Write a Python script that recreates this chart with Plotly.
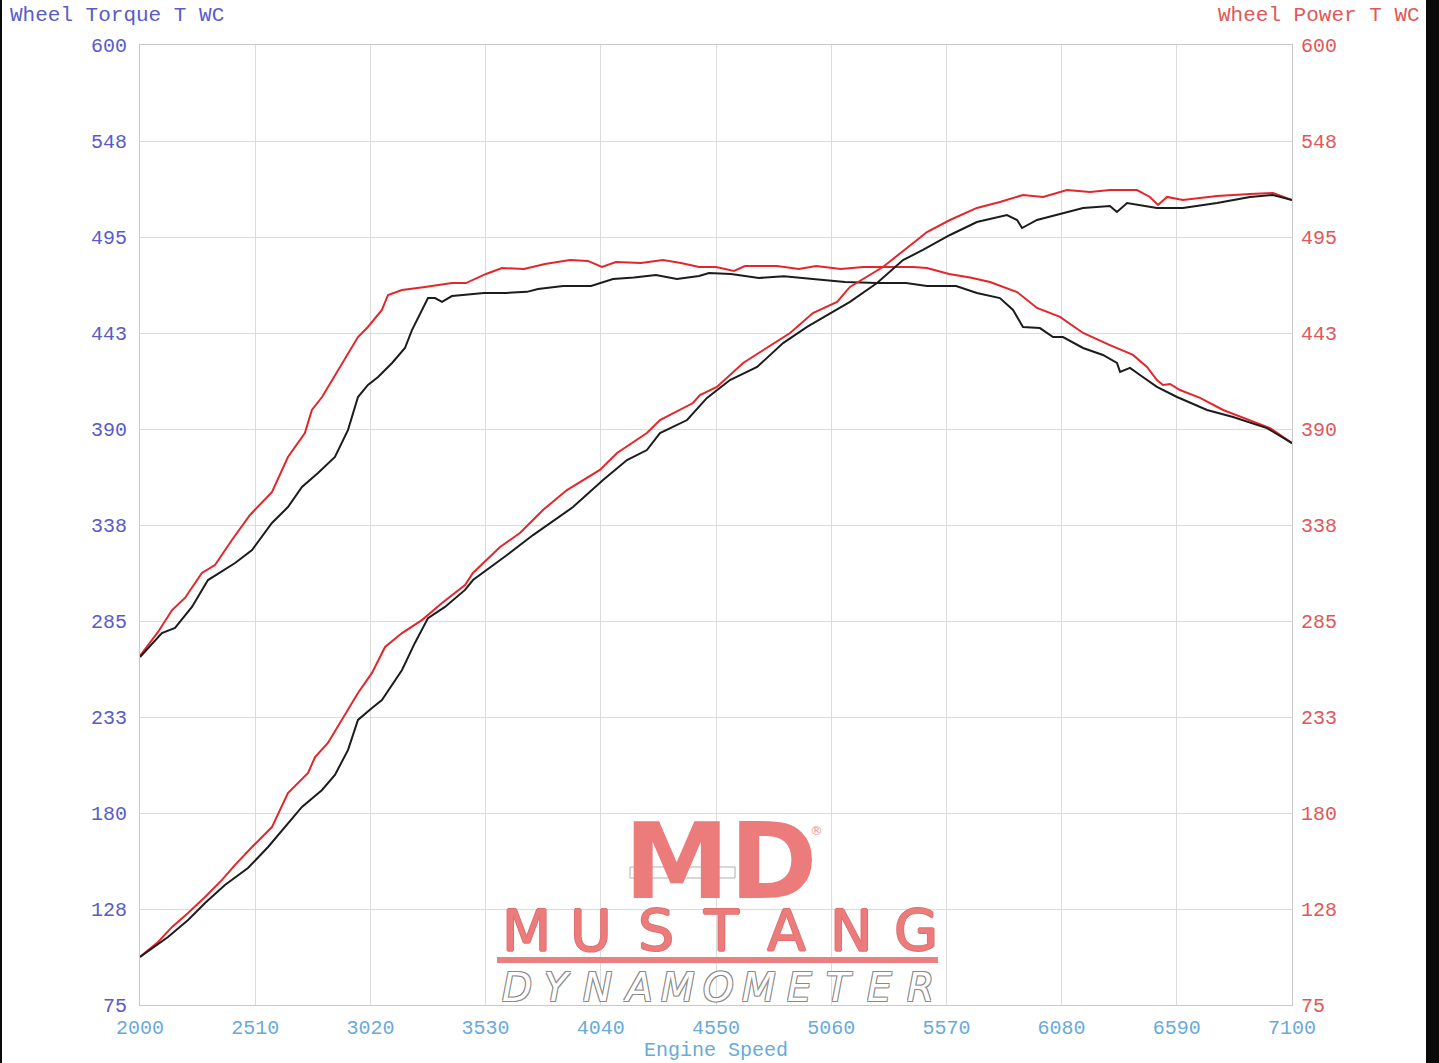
import plotly.graph_objects as go

# ---------------- data ----------------
rt_rpm = [2000, 2080, 2142, 2199, 2274, 2332, 2407, 2487, 2584, 2655, 2730, 2761, 2806, 2877, 2965, 3009,
          3071, 3098, 3160, 3262, 3381, 3443, 3532, 3603, 3700, 3793, 3904, 3983, 4045, 4107, 4218, 4315,
          4395, 4475, 4550, 4630, 4678, 4820, 4917, 4993, 5103, 5201, 5294, 5422, 5484, 5582, 5675, 5763,
          5883, 5971, 6073, 6175, 6294, 6396, 6458, 6502, 6529, 6560, 6604, 6693, 6795, 6914, 7003, 7100]
rt_val = [265.9, 279.0, 291.0, 297.6, 311.3, 315.6, 329.3, 343.0, 355.5, 374.7, 387.8, 400.4, 407.5, 422.3,
          440.3, 445.8, 455.1, 463.3, 466.0, 467.7, 469.8, 469.8, 474.8, 478.0, 477.5, 480.2, 482.4, 481.9,
          478.6, 481.3, 480.8, 482.4, 480.8, 478.6, 478.6, 476.4, 479.1, 479.1, 477.5, 479.1, 477.5, 478.6,
          478.6, 478.6, 478.0, 474.8, 472.9, 470.4, 464.9, 456.2, 451.3, 442.5, 435.9, 430.5, 423.9, 416.8,
          414.1, 414.6, 411.3, 407.0, 400.4, 394.9, 390.5, 382.3]

bt_rpm = [2000, 2097, 2155, 2230, 2301, 2421, 2496, 2584, 2655, 2717, 2788, 2863, 2921, 2965, 3009, 3054,
          3116, 3173, 3204, 3248, 3275, 3306, 3337, 3381, 3523, 3620, 3713, 3762, 3873, 3997, 4094, 4187,
          4284, 4377, 4475, 4519, 4616, 4740, 4851, 4979, 5121, 5263, 5391, 5484, 5613, 5705, 5807, 5865,
          5896, 5909, 5984, 6042, 6086, 6175, 6263, 6325, 6339, 6383, 6427, 6502, 6591, 6724, 6839, 6989, 7100]
bt_val = [265.3, 278.4, 281.2, 292.7, 307.4, 316.7, 323.8, 338.6, 347.3, 358.3, 365.9, 374.7, 389.5, 407.5,
          414.1, 418.4, 426.1, 434.3, 444.1, 455.1, 461.6, 461.6, 459.5, 462.7, 464.4, 464.4, 465.0, 466.6,
          468.2, 468.2, 472.0, 472.9, 474.2, 472.0, 473.7, 475.3, 474.8, 472.6, 473.5, 472.0, 470.4, 469.8,
          469.8, 468.2, 468.2, 464.4, 461.6, 455.1, 448.0, 445.8, 445.2, 440.3, 440.3, 434.3, 430.5, 426.1,
          421.2, 423.4, 419.5, 413.0, 407.5, 400.4, 396.6, 390.5, 382.3]

rp_rpm = [2000, 2080, 2142, 2213, 2288, 2363, 2421, 2496, 2584, 2655, 2744, 2775, 2832, 2894, 2965, 3027,
          3085, 3160, 3248, 3337, 3439, 3474, 3594, 3682, 3784, 3890, 4036, 4112, 4244, 4302, 4448, 4479,
          4554, 4670, 4776, 4878, 4979, 5086, 5143, 5289, 5440, 5484, 5586, 5705, 5807, 5909, 5998, 6104,
          6206, 6294, 6414, 6471, 6507, 6547, 6617, 6768, 6914, 7016, 7100]
rp_val = [101.3, 109.5, 117.7, 125.3, 134.1, 143.4, 151.6, 161.4, 172.3, 190.9, 201.9, 210.6, 218.3, 230.9,
          245.6, 256.6, 270.8, 278.4, 285.5, 294.8, 304.7, 311.3, 325.5, 333.1, 345.7, 356.6, 367.6, 376.9,
          387.8, 394.9, 404.2, 408.6, 413.0, 426.1, 434.3, 442.5, 453.4, 459.5, 467.7, 478.6, 493.4, 497.7,
          504.3, 510.9, 514.1, 518.0, 516.9, 520.7, 519.6, 520.7, 520.7, 516.9, 512.5, 516.9, 515.2, 517.4,
          518.5, 519.1, 515.2]

bp_rpm = [2000, 2124, 2213, 2288, 2376, 2478, 2567, 2655, 2717, 2806, 2863, 2921, 2965, 3027, 3071, 3160,
          3217, 3275, 3350, 3439, 3474, 3625, 3740, 3917, 4050, 4156, 4244, 4302, 4422, 4510, 4612, 4732,
          4847, 4953, 5143, 5263, 5378, 5466, 5586, 5705, 5838, 5883, 5905, 5971, 6060, 6175, 6294, 6325,
          6370, 6427, 6502, 6617, 6768, 6914, 7016, 7100]
bp_val = [101.3, 112.2, 121.5, 130.8, 140.6, 149.9, 161.4, 174.5, 183.3, 192.6, 200.8, 214.5, 230.9, 237.4,
          241.8, 258.2, 273.0, 286.6, 292.7, 302.0, 307.4, 321.1, 332.0, 347.3, 362.1, 373.0, 378.5, 387.8,
          394.9, 407.0, 416.8, 423.9, 437.0, 445.8, 459.5, 469.8, 482.4, 487.9, 496.1, 503.2, 507.0, 504.3,
          499.9, 504.3, 507.0, 510.9, 512.0, 508.7, 513.6, 512.5, 510.9, 510.9, 513.6, 516.9, 518.0, 515.2]

x_ticks = [2000, 2510, 3020, 3530, 4040, 4550, 5060, 5570, 6080, 6590, 7100]
y_ticks = [75, 127.5, 180, 232.5, 285, 337.5, 390, 442.5, 495, 547.5, 600]
y_tick_text = ["75", "128", "180", "233", "285", "338", "390", "443", "495", "548", "600"]

# ---------------- styling ----------------
# The figure occupies page pixels x 2..1430; the page background shows as the dark frame edges.
OFFX = 2
W, H = 1428, 1063
L, T, B = 140 - OFFX, 45, 58
R = W - (1292 - OFFX)
PW, PH = W - L - R, H - T - B

def pxx(x):
    return (x - OFFX - L) / PW

def pxy(y):
    return (H - B - y) / PH

RED = "#e3262b"
BLACK = "#1c1c1c"
LBLUE = "#5b5bc8"
RLABEL = "#e05858"
XBLUE = "#6aaad8"
GRID = "#dcdcdc"
MONO = "Liberation Mono, Courier New, monospace"

fig = go.Figure()
fig.add_trace(go.Scatter(x=rp_rpm, y=rp_val, mode="lines", line=dict(color=RED, width=2), yaxis="y2",
                         name="Wheel Power (red)"))
fig.add_trace(go.Scatter(x=bp_rpm, y=bp_val, mode="lines", line=dict(color=BLACK, width=2), yaxis="y2",
                         name="Wheel Power (black)"))
fig.add_trace(go.Scatter(x=rt_rpm, y=rt_val, mode="lines", line=dict(color=RED, width=2),
                         name="Wheel Torque (red)"))
fig.add_trace(go.Scatter(x=bt_rpm, y=bt_val, mode="lines", line=dict(color=BLACK, width=2),
                         name="Wheel Torque (black)"))

fig.update_layout(
    width=W, height=H,
    margin=dict(l=L, r=R, t=T, b=B, pad=0),
    paper_bgcolor="white", plot_bgcolor="white",
    showlegend=False,
    xaxis=dict(range=[2000, 7100], tickvals=x_ticks, ticktext=[str(v) for v in x_ticks],
               showgrid=True, gridcolor=GRID, gridwidth=1, zeroline=False,
               showline=True, linecolor="#c8c8c8", linewidth=1, mirror=True,
               ticks="", tickfont=dict(family=MONO, size=20, color=XBLUE), ticklabelstandoff=4),
    yaxis=dict(range=[75, 600], tickvals=y_ticks, ticktext=y_tick_text,
               showgrid=True, gridcolor=GRID, gridwidth=1, zeroline=False,
               showline=True, linecolor="#c8c8c8", linewidth=1, mirror=True,
               ticks="", tickfont=dict(family=MONO, size=20, color=LBLUE), ticklabelstandoff=8),
    yaxis2=dict(range=[75, 600], tickvals=y_ticks, ticktext=y_tick_text, overlaying="y", side="right",
                showgrid=False, zeroline=False, ticks="",
                tickfont=dict(family=MONO, size=20, color=RLABEL), ticklabelstandoff=8),
)

ann = []
ann.append(dict(text="Wheel Torque T WC", x=pxx(8), y=pxy(15), xref="paper", yref="paper",
                xanchor="left", yanchor="middle", showarrow=False,
                font=dict(family=MONO, size=21, color=LBLUE)))
ann.append(dict(text="Wheel Power T WC", x=pxx(1422), y=pxy(15), xref="paper", yref="paper",
                xanchor="right", yanchor="middle", showarrow=False,
                font=dict(family=MONO, size=21, color=RLABEL)))
ann.append(dict(text="Engine Speed", x=pxx(716), y=pxy(1050), xref="paper", yref="paper",
                xanchor="center", yanchor="middle", showarrow=False,
                font=dict(family=MONO, size=20, color=XBLUE)))

# ---- Mustang Dynamometer watermark logo ----
LOGO = "#ec7b7b"
ann.append(dict(text="<b>MD</b>", x=pxx(720), y=pxy(861), xref="paper", yref="paper",
                xanchor="center", yanchor="middle", showarrow=False,
                font=dict(family="DejaVu Sans", size=106, color=LOGO)))
ann.append(dict(text="®", x=pxx(816), y=pxy(830), xref="paper", yref="paper",
                xanchor="center", yanchor="middle", showarrow=False,
                font=dict(family="DejaVu Sans", size=13, color="#ee9090")))
thick = "1px 0 0 #e07070, -1px 0 0 #e07070, 0 1px 0 #e07070, 0 -1px 0 #e07070"
for i, ch in enumerate("MUSTANG"):
    ann.append(dict(text=ch, x=pxx(526 + 65 * i), y=pxy(931), xref="paper", yref="paper",
                    xanchor="center", yanchor="middle", showarrow=False,
                    font=dict(family="DejaVu Sans", size=57, color=LOGO, shadow=thick)))
outline = "1px 1px 0 #8a8a8a, -1px -1px 0 #8a8a8a, 1px -1px 0 #8a8a8a, -1px 1px 0 #8a8a8a"
for i, ch in enumerate("DYNAMOMETER"):
    ann.append(dict(text=ch, x=pxx(517 + 40.3 * i), y=pxy(987), xref="paper", yref="paper",
                    xanchor="center", yanchor="middle", showarrow=False,
                    font=dict(family="DejaVu Sans", size=39, color="white", style="italic",
                              shadow=outline)))
fig.update_layout(annotations=ann)

shapes = [
    # underline of the logo
    dict(type="rect", xref="paper", yref="paper", x0=pxx(497), x1=pxx(938), y0=pxy(963), y1=pxy(957),
         fillcolor="#ea8080", line=dict(width=0), layer="above"),
    # stripe through the M
    dict(type="rect", xref="paper", yref="paper", x0=pxx(630), x1=pxx(735), y0=pxy(878), y1=pxy(867),
         fillcolor="white", line=dict(width=1, color="#b0b0b0"), layer="above"),
    # dark right frame edge, inside the figure
    dict(type="rect", xref="paper", yref="paper", x0=pxx(1426), x1=pxx(1430), y0=pxy(1063), y1=pxy(0),
         fillcolor="#0a0a0a", line=dict(width=0), layer="above"),
]
fig.update_layout(shapes=shapes)

fig.write_html(
    "out.html",
    config={"displayModeBar": False},
    post_script=("document.documentElement.style.background='#0a0a0a';"
                 "document.body.style.background='#0a0a0a';"
                 "document.body.style.margin='0 0 0 2px';"
                 "document.body.style.overflow='hidden';"),
)
